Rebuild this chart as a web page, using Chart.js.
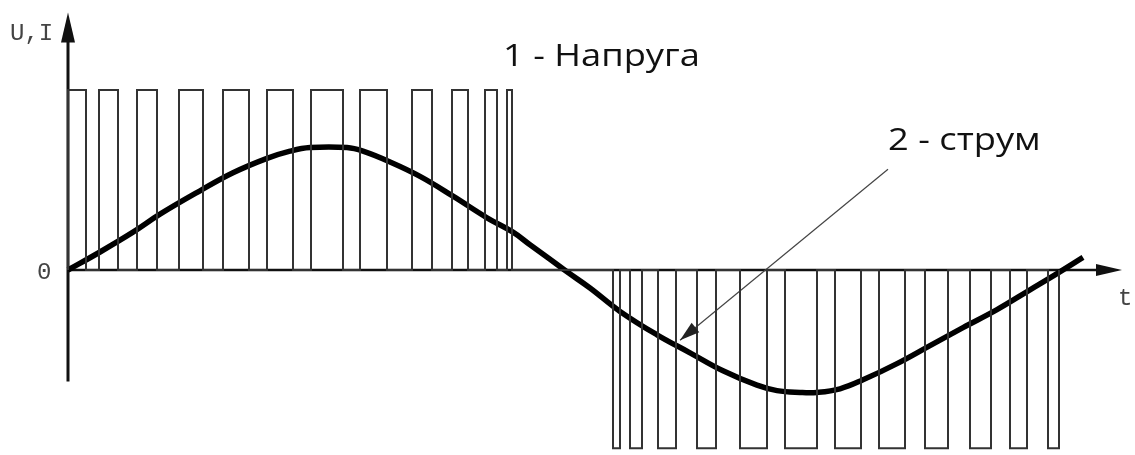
<!DOCTYPE html>
<html>
<head>
<meta charset="utf-8">
<script src="https://cdn.jsdelivr.net/npm/chart.js@4/dist/chart.umd.min.js"></script>
<style>
  html, body { margin: 0; padding: 0; background: #fff; }
  #wave { display: block; }
</style>
</head>
<body>
<canvas id="wave" width="1135" height="455"></canvas>
<script>
'use strict';

// PWM voltage: pulse edges along t, positive half then negative half
const uPosOn  = [0, 31, 69, 111, 155, 199, 243, 292, 344, 384, 417, 439];
const uPosOff = [18, 50, 89, 135, 181, 225, 275, 319, 364, 400, 429, 444];
const uNegOn  = [545, 562, 590, 629, 672, 717, 767, 811, 857, 902, 942, 980];
const uNegOff = [552, 574, 608, 648, 699, 749, 793, 837, 880, 923, 959, 991];
const uHigh = 1;
const uLow = -0.99;

// current through the load
const iT   = [0, 32, 65, 92, 132, 165, 199, 222, 242, 279, 295, 322, 352, 385, 419, 445, 462, 482, 499,
              522, 552, 589, 622, 655, 689, 709, 732, 749, 772, 795, 829, 862, 895, 929, 962, 989, 1015];
const iVal = [0, 0.10, 0.21, 0.31, 0.44, 0.54, 0.62, 0.66, 0.68, 0.68, 0.66, 0.60, 0.52, 0.41, 0.29, 0.21, 0.14, 0.06, -0.01,
              -0.10, -0.23, -0.36, -0.46, -0.56, -0.64, -0.67, -0.68, -0.68, -0.66, -0.61, -0.52, -0.42, -0.32, -0.22, -0.11, -0.02, 0.07];

// pointer from the "2 - струм" caption to the current curve
const pointerT = [820, 612];
const pointerV = [0.56, -0.39];

const voltage = [];
function addPulses(on, off, level) {
    for (let k = 0; k < on.length; k++) {
        voltage.push({x: on[k], y: 0});
        voltage.push({x: on[k], y: level});
        voltage.push({x: off[k], y: level});
        voltage.push({x: off[k], y: 0});
    }
}
addPulses(uPosOn, uPosOff, uHigh);
addPulses(uNegOn, uNegOff, uLow);

const current = iT.map((t, k) => ({x: t, y: iVal[k]}));
const pointer = pointerT.map((t, k) => ({x: t, y: pointerV[k]}));

function arrowHead(ctx, tipX, tipY, fromX, fromY, len, half) {
    const a = Math.atan2(tipY - fromY, tipX - fromX);
    ctx.beginPath();
    ctx.moveTo(tipX, tipY);
    ctx.lineTo(tipX - len * Math.cos(a) + half * Math.sin(a), tipY - len * Math.sin(a) - half * Math.cos(a));
    ctx.lineTo(tipX - len * Math.cos(a) - half * Math.sin(a), tipY - len * Math.sin(a) + half * Math.cos(a));
    ctx.closePath();
    ctx.fill();
}

// caption text, drawn a little wider than the font's natural width
function wideText(ctx, text, px, py, stretch) {
    ctx.save();
    ctx.translate(px, py);
    ctx.scale(stretch, 1);
    ctx.fillText(text, 0, 0);
    ctx.restore();
}

const axesPlugin = {
    id: 'axes',
    beforeDatasetsDraw(chart) {
        const {ctx, scales: {x, y}} = chart;
        const x0 = x.getPixelForValue(0);
        const y0 = y.getPixelForValue(0);
        ctx.save();
        ctx.strokeStyle = '#111';
        ctx.fillStyle = '#111';
        ctx.lineWidth = 3;
        // vertical axis
        ctx.beginPath();
        ctx.moveTo(x0, y.getPixelForValue(-0.62));
        ctx.lineTo(x0, y.getPixelForValue(1.3));
        ctx.stroke();
        arrowHead(ctx, x0, y.getPixelForValue(1.43), x0, y0, 30, 7);
        // horizontal axis
        ctx.lineWidth = 2.5;
        ctx.beginPath();
        ctx.moveTo(x0, y0);
        ctx.lineTo(x.getPixelForValue(1030), y0);
        ctx.stroke();
        arrowHead(ctx, x.getPixelForValue(1054), y0, x0, y0, 26, 6);
        ctx.restore();
    },
    afterDraw(chart) {
        const {ctx, scales: {x, y}} = chart;
        ctx.save();
        // pointer head
        ctx.fillStyle = '#222';
        arrowHead(ctx, x.getPixelForValue(pointerT[1]), y.getPixelForValue(pointerV[1]),
            x.getPixelForValue(pointerT[0]), y.getPixelForValue(pointerV[0]), 20, 6);

        ctx.fillStyle = '#444';
        ctx.textBaseline = 'alphabetic';
        ctx.font = '24px "Liberation Mono", monospace';
        ctx.fillText('U,I', 10, 40);
        ctx.fillText('0', 37, 279);
        ctx.fillText('t', 1118, 305);

        ctx.fillStyle = '#111';
        ctx.font = '31px "Open Sans", sans-serif';
        wideText(ctx, '1 - Напруга', 503, 66, 1.17);
        wideText(ctx, '2 - струм', 888, 150, 1.17);
        ctx.restore();
    }
};

new Chart(document.querySelector('#wave'), {
    type: 'line',
    data: {
        datasets: [
            {
                label: 'Напруга',
                data: voltage,
                borderColor: '#333',
                borderWidth: 2,
                pointRadius: 0,
                tension: 0
            },
            {
                label: 'струм',
                data: current,
                borderColor: '#000',
                borderWidth: 5.5,
                pointRadius: 0,
                tension: 0.4
            },
            {
                label: 'pointer',
                data: pointer,
                borderColor: '#444',
                borderWidth: 1.2,
                pointRadius: 0,
                tension: 0
            }
        ]
    },
    options: {
        responsive: false,
        animation: false,
        devicePixelRatio: 1,
        layout: {padding: 0},
        plugins: {legend: {display: false}, tooltip: {enabled: false}},
        scales: {
            x: {type: 'linear', display: false, min: -68, max: 1067},
            y: {type: 'linear', display: false, min: -185 / 180, max: 1.5}
        }
    },
    plugins: [axesPlugin]
});
</script>
</body>
</html>
